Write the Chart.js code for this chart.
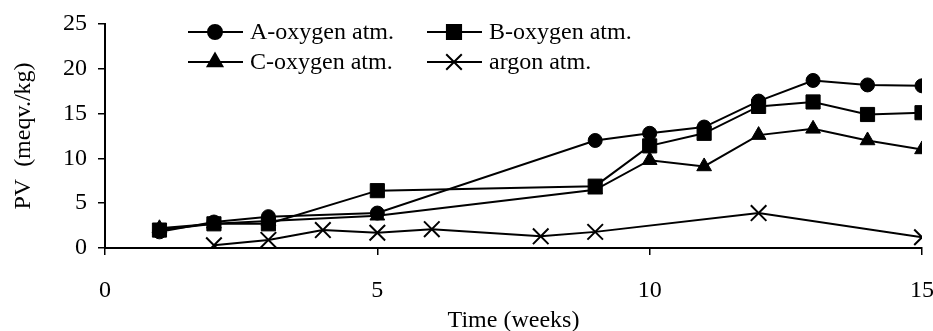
<!DOCTYPE html>
<html>
<head>
<meta charset="utf-8">
<script src="https://cdn.jsdelivr.net/npm/chart.js@4"></script>
<style>
  html, body { margin: 0; padding: 0; background: #fff; }
  #wrap { width: 933px; height: 331px; }
</style>
</head>
<body>
<div id="wrap"><canvas id="myChart"></canvas></div>
<script>
// weeks and PV values per series
const weeksA = [1, 2, 3, 5, 9, 10, 11, 12, 13, 14, 15];
const pvA = [1.8, 2.9, 3.5, 3.9, 12.0, 12.8, 13.5, 16.4, 18.7, 18.2, 18.1];
const weeksB = [1, 2, 3, 5, 9, 10, 11, 12, 13, 14, 15];
const pvB = [2.0, 2.7, 2.7, 6.4, 6.9, 11.4, 12.8, 15.8, 16.3, 14.9, 15.1];
const weeksC = [1, 2, 3, 5, 9, 10, 11, 12, 13, 14, 15];
const pvC = [2.2, 2.7, 3.0, 3.6, 6.5, 9.8, 9.1, 12.6, 13.3, 12.0, 11.0];
const weeksAr = [2, 3, 4, 5, 6, 8, 9, 12, 15];
const pvAr = [0.3, 0.9, 2.0, 1.7, 2.1, 1.3, 1.8, 3.9, 1.2];
const xTicks = [0, 5, 10, 15];
const yTicks = [0, 5, 10, 15, 20, 25];

const fontFam = "'Liberation Serif', serif";

function pairs(xs, ys) {
    return xs.map((x, i) => ({ x: x, y: ys[i] }));
}

function makeSet(label, xs, ys, style, r) {
    return {
        label: label,
        data: pairs(xs, ys),
        borderColor: '#000',
        backgroundColor: '#000',
        borderWidth: 2,
        pointStyle: style,
        pointRadius: r,
        pointBorderWidth: style === 'crossRot' ? 2 : 1,
        pointBackgroundColor: '#000',
        pointBorderColor: '#000',
        tension: 0
    };
}

// legend drawn by hand: line with marker in the middle, 2 columns x 2 rows
const lineLegend = {
    id: 'lineLegend',
    afterDraw(chart) {
        const c = chart.ctx;
        const spots = [[188, 32], [427, 32], [188, 62], [427, 62]];
        c.save();
        chart.data.datasets.forEach((ds, k) => {
            const [x0, y0] = spots[k];
            c.strokeStyle = '#000';
            c.lineWidth = 2;
            c.beginPath();
            c.moveTo(x0, y0);
            c.lineTo(x0 + 55, y0);
            c.stroke();
            c.fillStyle = '#000';
            Chart.helpers.drawPoint(c, {
                pointStyle: ds.pointStyle,
                radius: ds.pointRadius,
                borderWidth: ds.pointBorderWidth,
                rotation: 0
            }, x0 + 27, y0);
            c.font = '24px ' + fontFam;
            c.textBaseline = 'middle';
            c.fillText(ds.label, x0 + 62, y0 + 1);
        });
        c.restore();
    }
};

const ctx = document.getElementById('myChart').getContext('2d');
const myChart = new Chart(ctx, {
    type: 'line',
    data: {
        datasets: [
            makeSet('A-oxygen atm.', weeksA, pvA, 'circle', 7),
            makeSet('B-oxygen atm.', weeksB, pvB, 'rect', 10),
            makeSet('C-oxygen atm.', weeksC, pvC, 'triangle', 8.5),
            makeSet('argon atm.', weeksAr, pvAr, 'crossRot', 11)
        ]
    },
    options: {
        responsive: true,
        maintainAspectRatio: false,
        animation: false,
        layout: { autoPadding: false, padding: { top: 24, right: 11, left: 0, bottom: 0 } },
        plugins: {
            legend: { display: false },
            tooltip: { enabled: false }
        },
        scales: {
            x: {
                type: 'linear',
                min: 0,
                max: 15,
                afterBuildTicks: (axis) => { axis.ticks = xTicks.map(v => ({ value: v })); },
                afterFit: (axis) => { axis.height = 83; axis.paddingLeft = 0; axis.paddingRight = 0; },
                border: { display: true, color: '#000', width: 2 },
                grid: { display: true, drawOnChartArea: false, drawTicks: true, tickLength: 7, color: '#000', lineWidth: 1.5 },
                ticks: { color: '#000', font: { family: fontFam, size: 24 }, padding: 21, maxRotation: 0 },
                title: { display: true, text: 'Time (weeks)', color: '#000', font: { family: fontFam, size: 24 }, padding: { top: 0, bottom: -4 } }
            },
            y: {
                min: 0,
                max: 25,
                afterBuildTicks: (axis) => { axis.ticks = yTicks.map(v => ({ value: v })); },
                afterFit: (axis) => { axis.width = 105; axis.paddingTop = 0; axis.paddingBottom = 0; },
                border: { display: true, color: '#000', width: 2 },
                grid: { display: true, drawOnChartArea: false, drawTicks: true, tickLength: 7, color: '#000', lineWidth: 1.5 },
                ticks: { color: '#000', font: { family: fontFam, size: 24 }, padding: 11 },
                title: { display: true, text: 'PV  (meqv./kg)', color: '#000', font: { family: fontFam, size: 24 }, padding: { top: 9, bottom: 0 } }
            }
        }
    },
    plugins: [lineLegend]
});
</script>
</body>
</html>
